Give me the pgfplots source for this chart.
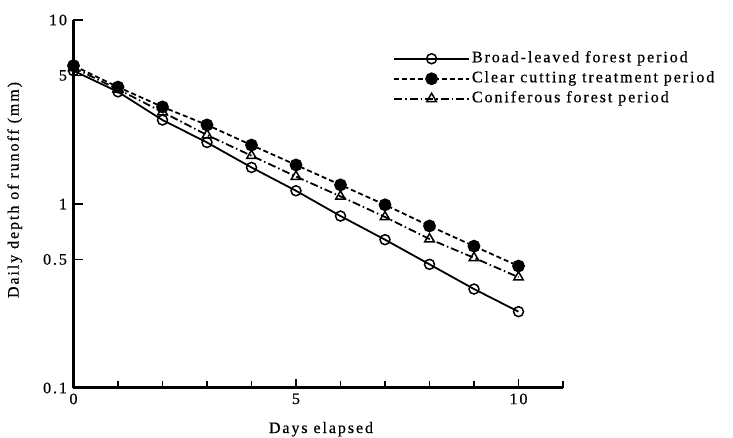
\documentclass[border=0pt]{standalone}
\usepackage{fontspec}
\setmainfont[LetterSpace=12, FakeBold=0.6]{Liberation Serif}
\usepackage{pgfplots}
\pgfplotsset{compat=1.18}
\begin{document}
\begin{tikzpicture}
\begin{axis}[
  scale only axis,
  width=489.5pt, height=368pt,
  xmin=0, xmax=11,
  ymode=log, ymin=0.1, ymax=10,
  axis x line*=bottom, axis y line*=left,
  axis line style={line width=3pt},
  xtick={0,5,10}, xticklabels={0,5,10},
  minor xtick={1,2,3,4,6,7,8,9,11},
  ytick={0.1,0.5,1,5,10}, yticklabels={0.1,0.5,1,5,10},
  yminorticks=false,
  tick align=inside,
  major tick length=9pt, minor tick length=7pt,
  every tick/.style={black, line width=1.6pt},
  tick label style={font=\fontsize{16}{19}\selectfont},
  xticklabel style={yshift=-2pt},
  yticklabel style={xshift=-3pt},
  label style={font=\fontsize{16}{19}\selectfont},
  xlabel={Days elapsed},
  xlabel style={at={(axis description cs:0.5056,-0.112)}, anchor=center},
  ylabel={Daily depth of runoff (mm)},
  ylabel style={at={(axis description cs:-0.12,0.538)}, anchor=center},
  legend cell align=left,
  legend style={draw=none, fill=none, inner sep=0pt,
    at={(axis description cs:0.6527,0.921)}, anchor=north west,
    font=\fontsize{16}{19}\selectfont, row sep=1pt,
    nodes={inner sep=2pt, text height=11pt, text depth=4pt}},
  legend image code/.code={\draw[mark repeat=2,mark phase=2,#1] plot coordinates {(0pt,0pt) (37.5pt,0pt) (75pt,0pt)};},
]
\addplot[black, line width=1.8pt, mark=o, mark size=5pt, mark options={solid, line width=1.5pt, fill=white}] coordinates {
  (0,5.3) (1,4.07) (2,2.86) (3,2.16) (4,1.58) (5,1.18) (6,0.86) (7,0.64) (8,0.47) (9,0.345) (10,0.26)
};
\addlegendentry{Broad-leaved forest period}
\addplot[black, line width=1.8pt, dash pattern=on 5pt off 3pt, mark=*, mark size=5.5pt, mark options={solid}] coordinates {
  (0,5.65) (1,4.32) (2,3.37) (3,2.69) (4,2.09) (5,1.63) (6,1.27) (7,0.99) (8,0.76) (9,0.59) (10,0.46)
};
\addlegendentry{Clear cutting treatment period}
\addplot[black, line width=1.8pt, dash pattern=on 8pt off 3pt on 1.5pt off 3pt, mark=triangle, mark size=5.5pt, mark options={solid, line width=1.5pt, fill=white}] coordinates {
  (0,5.5) (1,4.2) (2,3.16) (3,2.37) (4,1.83) (5,1.41) (6,1.10) (7,0.85) (8,0.645) (9,0.51) (10,0.40)
};
\addlegendentry{Coniferous forest period}
\end{axis}
\pgfresetboundingbox
\useasboundingbox (-73.5pt,-50pt) rectangle (659.5pt,388pt);
\end{tikzpicture}
\end{document}
